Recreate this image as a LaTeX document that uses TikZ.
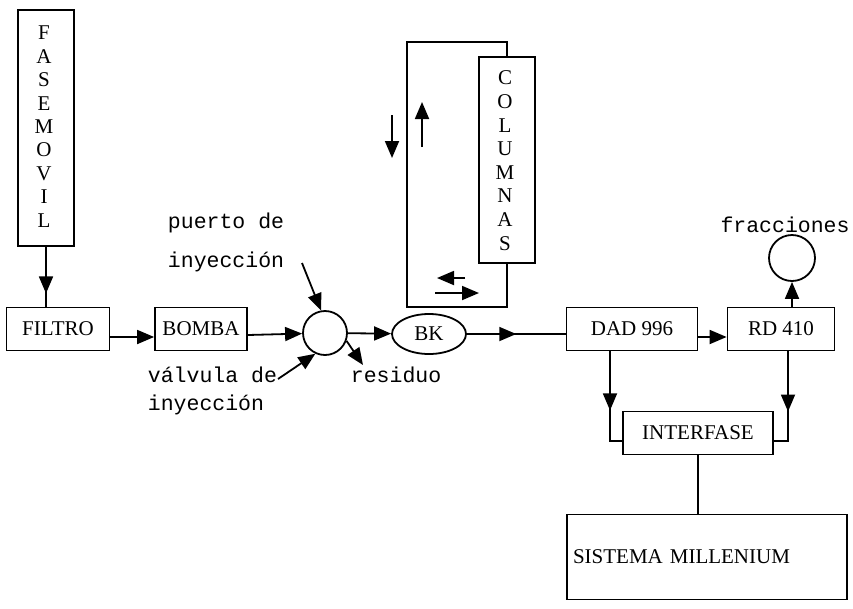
\documentclass[tikz,border=0pt]{standalone}
\usepackage{fontspec}
\setmainfont{Liberation Serif}
\newfontfamily\labelfont{Liberation Mono}
\usetikzlibrary{arrows.meta, decorations.markings, shapes.geometric}

\begin{document}
\begin{tikzpicture}[
    x=1pt, y=-1pt, line width=1.8pt,
    flow/.style={-{Triangle[length=17pt, width=14pt]}},
    midflow/.style={
        postaction={decorate, decoration={
            markings,
            mark=at position #1 with {\arrow{Triangle[length=17pt, width=14pt]}},
        }},
    },
    box/.style={draw, rectangle, minimum height=43pt, inner sep=0pt,
        font=\fontsize{21}{25}\selectfont},
    valve/.style={draw, circle, minimum size=44pt, inner sep=0pt},
    tag/.style={font=\labelfont\fontsize{21.5}{26}\selectfont, inner sep=0pt},
    letter/.style={font=\fontsize{21}{25}\selectfont, inner sep=0pt},
]
\useasboundingbox (0,0) rectangle (853,608);

% =============================================================================
% Mobile phase and pump line
% =============================================================================
\node[box, minimum width=56pt, minimum height=236pt] (fase) at (46,128) {};
\foreach \l [count=\i from 0] in {F,A,S,E,M,O,V,I,L} {
    \node[letter] (fase-\i) at (44, 33+23.4*\i) {\l};
}

\node[box, minimum width=103pt] (filtro) at (58,329) {FILTRO};
\node[box, minimum width=92pt] (bomba) at (201,329) {BOMBA};
\node[valve] (valve) at (325,333) {};
\node[draw, ellipse, minimum width=74pt, minimum height=40pt, inner sep=0pt,
    font=\fontsize{21}{25}\selectfont] (bk) at (429,334) {BK};

\draw[midflow=0.78] (fase.south) -- (fase.south |- filtro.north);
\draw[flow] ([yshift=-8pt]filtro.east) -- ([yshift=-8pt]bomba.west);
\draw[flow] ([yshift=-6pt]bomba.east) -- (valve);
\draw[flow] (valve) -- (bk);

% Injection port, valve and waste
\coordinate (portIn) at (302,263);
\coordinate (valveIn) at (278,379);
\coordinate (waste) at (363,365);
\draw[flow] (portIn) -- (valve.100);
\draw[flow] (valveIn) -- (valve.-115);
\draw[flow] (valve.-20) -- (waste);

\node[tag, anchor=base east] (port1) at (285,228) {puerto de};
\node[tag, anchor=base east] (port2) at (285,267) {inyección};
\node[tag, anchor=base west] (valv1) at (147,382) {válvula de};
\node[tag, anchor=base west] (valv2) at (147,410) {inyección};
\node[tag, anchor=base west] (waste-lbl) at (350,382) {residuo};

% =============================================================================
% Column loop
% =============================================================================
\node[box, minimum width=56pt, minimum height=206pt] (cols) at (507,160) {};
\foreach \l [count=\i from 0] in {C,O,L,U,M,N,A,S} {
    \node[letter] (cols-\i) at (505, 78+23.6*\i) {\l};
}

\coordinate (loopTL) at (407,42);
\coordinate (loopBL) at (407,307);
\draw (cols.north) |- (loopTL) -- (loopBL) -| (cols.south);

% Flow direction inside the loop
\draw[flow] (392,115) -- (392,158);
\draw[flow] (422,147) -- (422,102);
\draw[flow] (465,278) -- (437,278);
\draw[flow] (435,293) -- (479,293);

% =============================================================================
% Detectors, interface and data system
% =============================================================================
\node[box, minimum width=131pt] (dad) at (632,329) {DAD 996};
\node[box, minimum width=107pt] (rd) at (781,329) {RD 410};
\node[valve, minimum size=46pt] (frac) at (792,258) {};
\node[tag, anchor=base] (frac-lbl) at (785,232) {fracciones};
\node[box, minimum width=150pt] (interfase) at (698,433) {INTERFASE};
\node[box, minimum width=280pt, minimum height=85pt, text width=268pt,
    align=left] (sistema) at (707,557) {SISTEMA MILLENIUM};

\draw[midflow=0.5] (bk.east) -- (bk.east -| dad.west);
\draw[flow] ([yshift=-8pt]dad.east) -- ([yshift=-8pt]rd.west);
\draw[flow] (rd.north -| frac) -- (frac);
\draw[midflow=0.58] ([xshift=-22pt]dad.south) |- ([yshift=-8pt]interfase.west);
\draw[midflow=0.58] ([xshift=7pt]rd.south) |- ([yshift=-8pt]interfase.east);
\draw (interfase.south) -- (interfase.south |- sistema.north);

\end{tikzpicture}
\end{document}
